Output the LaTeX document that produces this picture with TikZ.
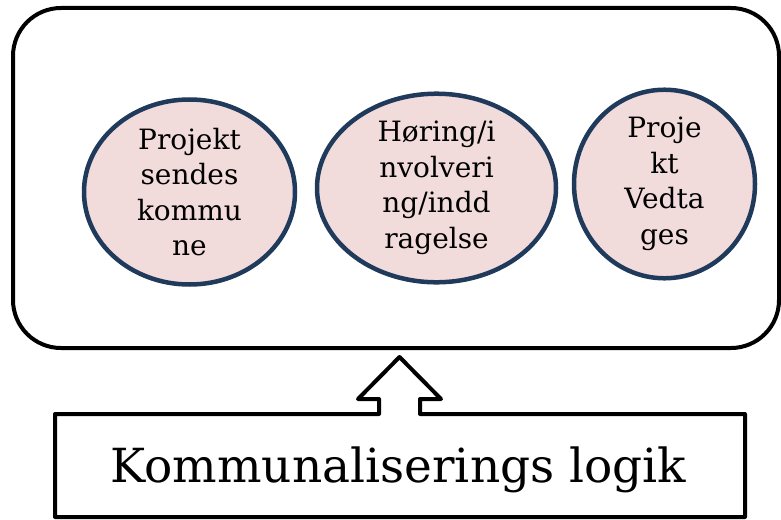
\documentclass[tikz,border=0pt]{standalone}
\usepackage{fontspec}
\newfontfamily\slabfont{DejaVu Serif}
\usetikzlibrary{shapes.geometric}
\definecolor{ellfill}{HTML}{F2DCDB}
\definecolor{elldraw}{HTML}{203A5C}
\begin{document}
\begin{tikzpicture}[x=1pt,y=-1pt,
  outerbox/.style={draw=black,line width=4pt,rounded corners=48pt,inner sep=0pt},
  phase/.style={ellipse,draw=elldraw,fill=ellfill,line width=4.5pt,inner sep=0pt,align=center,
     font=\slabfont\fontsize{28pt}{35.5pt}\selectfont},
  lbl/.style={inner sep=0pt,font=\slabfont\fontsize{47pt}{56pt}\selectfont},
  shell/.style={draw=black,line width=4pt,line join=round}]
\useasboundingbox (0,0) rectangle (781,519);
\node[outerbox,minimum width=766pt,minimum height=340pt] (outer) at (396,178) {};
\node[phase,minimum width=211pt,minimum height=185pt] (p1) at (189.5,192) {Projekt\\sendes\\kommu\\ne};
\node[phase,minimum width=239pt,minimum height=176pt] (p2) at (436.5,188) {Høring/i\\nvolveri\\ng/indd\\ragelse};
\node[phase,minimum width=181pt,minimum height=168pt] (p3) at (664.5,184) {Proje\\kt\\Vedta\\ges};
\coordinate (tip) at (399.5,357);
\draw[shell] (379,414) -- (55,414) -- (55,517) -- (745,517) -- (745,414) -- (420,414)
  -- (420,399) -- (441,399) -- (tip) -- (358,399) -- (379,399) -- cycle;
\node[lbl,anchor=base] (kl) at (398.5,482) {Kommunaliserings logik};
\end{tikzpicture}
\end{document}
